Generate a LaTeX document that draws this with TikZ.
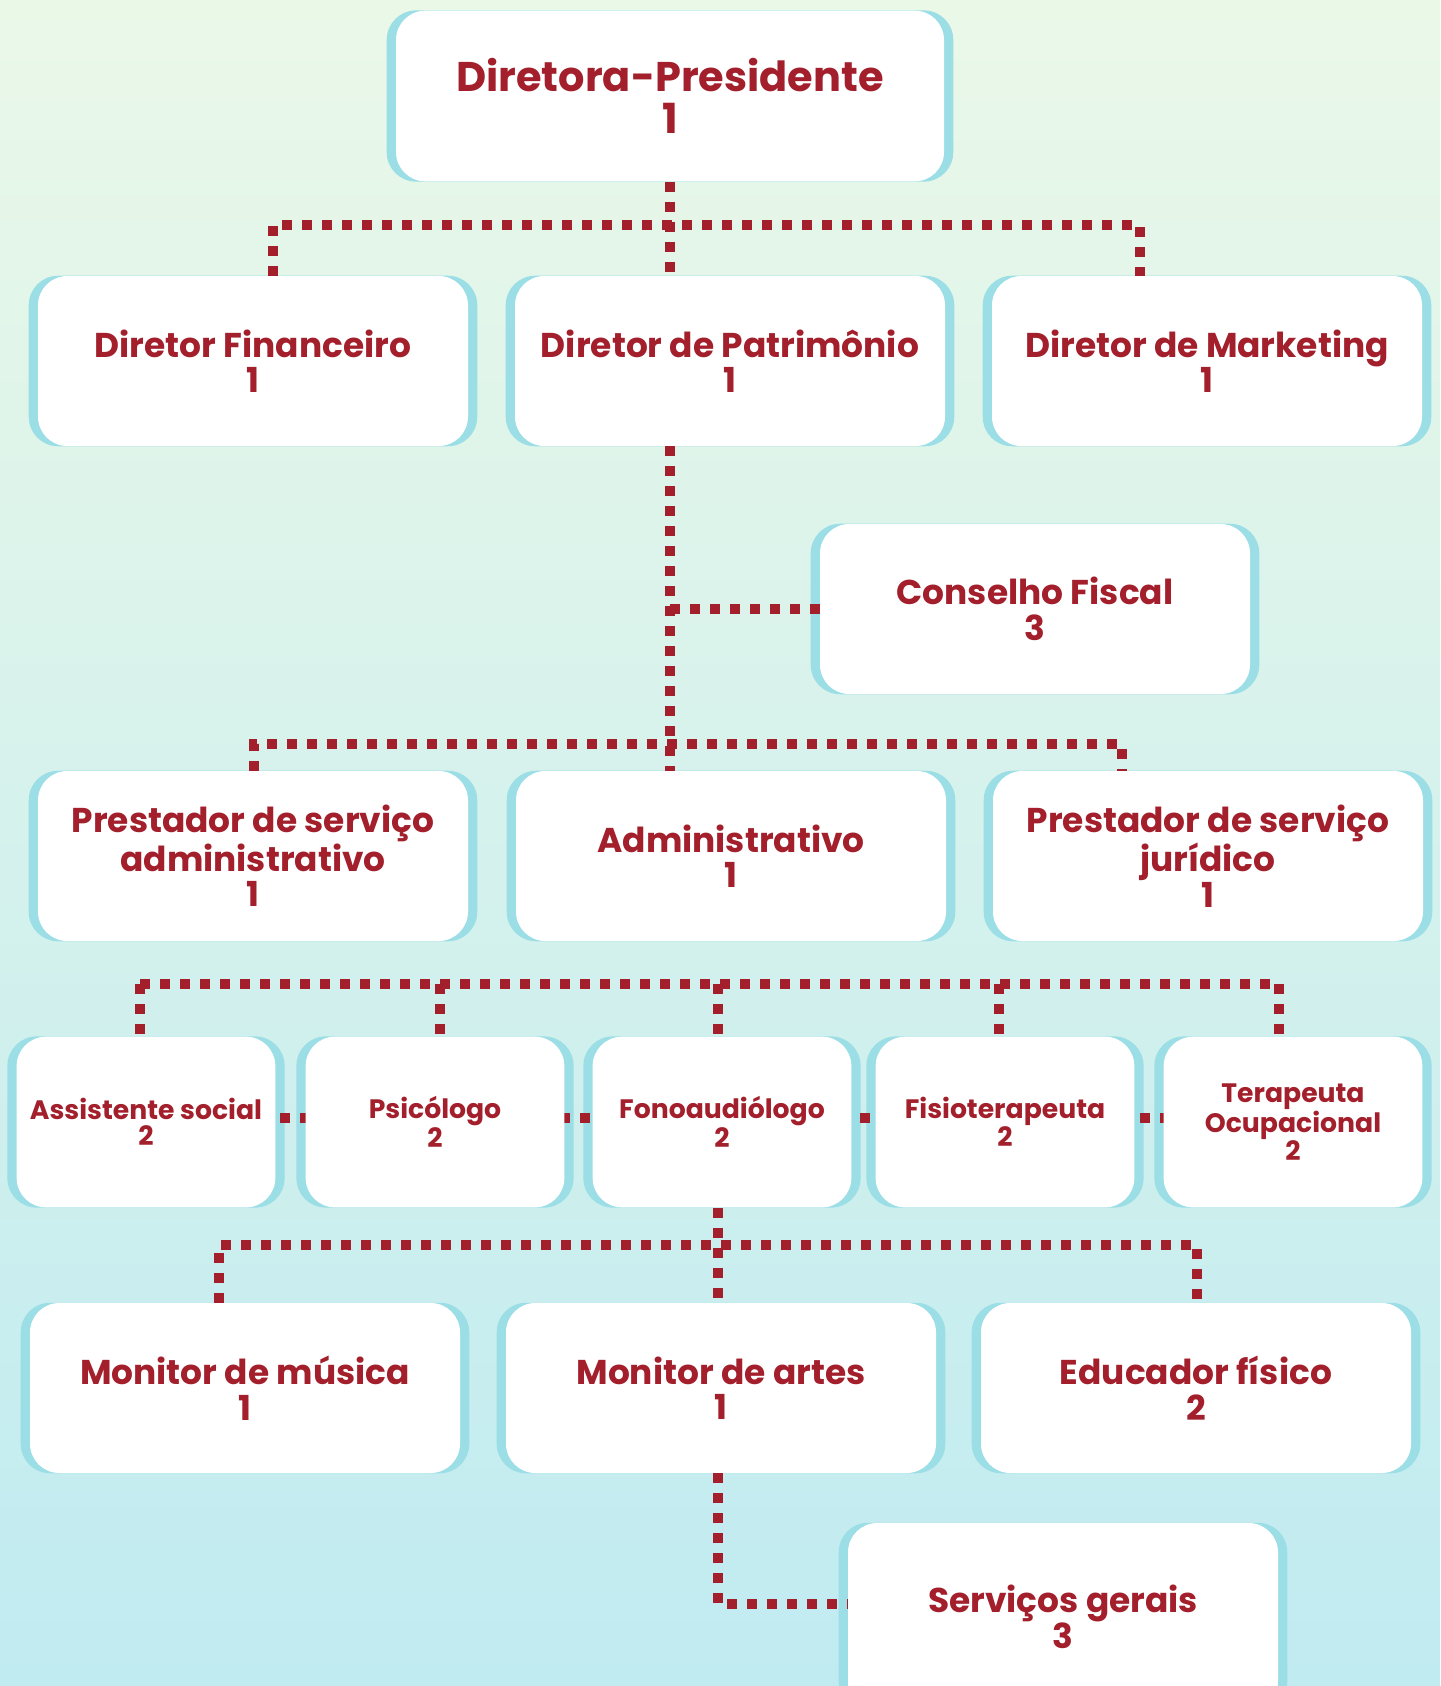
\documentclass[tikz,border=0pt]{standalone}
\usepackage{fontspec}
\setmainfont{Poppins}
\usepackage{xcolor}
\usepackage{tikz}
\usetikzlibrary{shapes,calc}
\definecolor{orgRed}{RGB}{162,31,43}
\definecolor{orgCyan}{RGB}{155,222,230}
\definecolor{bgTop}{RGB}{234,248,232}
\definecolor{bgBottom}{RGB}{192,235,241}
\pgfdeclarelayer{back}
\pgfdeclarelayer{behind}
\pgfsetlayers{back,behind,main}
\tikzstyle{tsText} = [
    text=orgRed,
    align=center
]
\tikzstyle{tsBox} = [
    rectangle,
    tsText,
    fill=white,
    rounded corners=22pt,
    inner sep=0pt,
    minimum width=322.5pt,
    minimum height=127.5pt,
    font=\bfseries\fontsize{25.8}{26.6}\selectfont]
\tikzstyle{tsTopBox} = [
    tsBox,
    minimum width=411pt,
    minimum height=128pt,
    font=\bfseries\fontsize{31.1}{31}\selectfont]
\tikzstyle{tsSmallBox} = [
    tsBox,
    minimum width=194pt,
    minimum height=128pt,
    font=\bfseries\fontsize{20}{19.8}\selectfont]
\tikzstyle{tsLink} = [
    draw=orgRed,
    line width=7.5pt,
    dash pattern=on 7.5pt off 7.5pt]

\begin{document}
\begin{tikzpicture}[x=0.75pt, y=-0.75pt]
        \useasboundingbox (0,0) rectangle (1440,1686);
        \begin{pgfonlayer}{back}
            \shade[top color=bgTop, bottom color=bgBottom] (0,0) rectangle (1440,1686);
        \end{pgfonlayer}

        % boxes
        \node[tsTopBox] (pres) at (670,96) {Diretora-Presidente\\1};

        \node[tsBox] (fin) at (253,361) {Diretor Financeiro\\1};
        \node[tsBox] (pat) at (730,361) {Diretor de Patrimônio\\1};
        \node[tsBox] (mkt) at (1207,361) {Diretor de Marketing\\1};

        \node[tsBox] (cons) at (1035,609) {Conselho Fiscal\\3};

        \node[tsBox] (psa) at (253,856) {Prestador de serviço\\administrativo\\1};
        \node[tsBox] (adm) at (731,856) {Administrativo\\1};
        \node[tsBox] (psj) at (1208,856) {Prestador de serviço\\jurídico\\1};

        \node[tsSmallBox] (assist) at (146,1122) {Assistente social\\2};
        \node[tsSmallBox] (psic) at (435,1122) {Psicólogo\\2};
        \node[tsSmallBox] (fono) at (722,1122) {Fonoaudiólogo\\2};
        \node[tsSmallBox] (fisio) at (1005,1122) {Fisioterapeuta\\2};
        \node[tsSmallBox] (terap) at (1293,1122) {Terapeuta\\Ocupacional\\2};

        \node[tsBox] (mus) at (245,1388) {Monitor de música\\1};
        \node[tsBox] (art) at (721,1388) {Monitor de artes\\1};
        \node[tsBox] (edu) at (1196,1388) {Educador físico\\2};

        \node[tsBox, minimum height=141pt] (serv) at (1063,1617) {Serviços gerais\\3};

        \coordinate (d3l) at (140,984);
        \coordinate (d3r) at (1279,984);
        \coordinate (mid) at (140,1118);

        \begin{pgfonlayer}{behind}
            \foreach \n in {pres,fin,pat,mkt,cons,psa,adm,psj,assist,psic,fono,fisio,terap,mus,art,edu,serv}
                \fill[orgCyan, rounded corners=22pt] ([xshift=-6.75pt]\n.south west) rectangle ([xshift=6.75pt]\n.north east);
            \draw[tsLink] (mid) -- (mid -| terap.center);
        \end{pgfonlayer}

        % links
        \coordinate (d1l) at (273,225);
        \coordinate (d1r) at (1140,225);
        \draw[tsLink] (pres.south) -- (pres.south |- pat.north);
        \draw[tsLink] (d1l |- fin.north) -- (d1l) -- (d1r) -- (d1r |- mkt.north);

        \draw[tsLink] (pat.south -| pres.south) -- (adm.north -| pres.south);
        \draw[tsLink] (cons.west) -- (cons.west -| pres.south);

        \coordinate (d2l) at (254,744);
        \coordinate (d2r) at (1122,744);
        \draw[tsLink] (d2l |- psa.north) -- (d2l) -- (d2r) -- (d2r |- psj.north);

        \draw[tsLink] (d3l) -- (d3r);
        \foreach \x/\n in {140/assist,440/psic,718/fono,999/fisio,1279/terap} {
            \coordinate (top) at (\x,984);
            \draw[tsLink] (top) -- (top |- \n.north);
        }

        \coordinate (d5m) at (718,1245);
        \coordinate (d5l) at (219,1245);
        \coordinate (d5r) at (1197,1245);
        \draw[tsLink] (fono.south -| d5m) -- (art.north -| d5m);
        \draw[tsLink] (d5l |- mus.north) -- (d5l) -- (d5r) -- (d5r |- edu.north);

        \coordinate (d6) at (718,1604);
        \draw[tsLink] (art.south -| d6) -- (d6) -- (d6 -| serv.west);
\end{tikzpicture}
\end{document}
